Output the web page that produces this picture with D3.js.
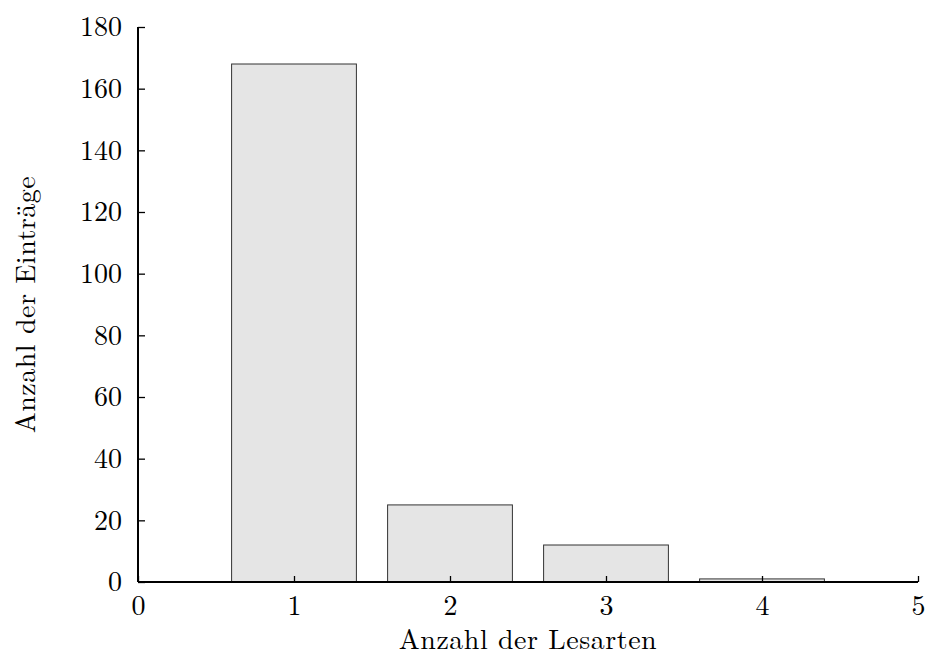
<!DOCTYPE html>
<html>
<head>
<meta charset="utf-8">
<script src="https://cdn.jsdelivr.net/npm/d3@7"></script>
<style>
  body { margin: 0; background: #fff; }
  text { font-family: "Latin Modern Roman", "CMU Serif", "Liberation Serif", "DejaVu Serif", serif; fill: #000; }
</style>
</head>
<body>
<div id="chart"></div>
<script>
var categories = [1, 2, 3, 4];
var counts = [168, 25, 12, 1];
var xTicks = [0, 1, 2, 3, 4, 5];
var yTicks = [0, 20, 40, 60, 80, 100, 120, 140, 160, 180];

var svgWidth = 930;
var svgHeight = 656;
var margin = { top: 27, right: 12, bottom: 74, left: 138 };
var width = svgWidth - margin.left - margin.right;
var height = svgHeight - margin.top - margin.bottom;

var svg = d3.select("#chart")
  .append("svg")
  .attr("width", svgWidth)
  .attr("height", svgHeight);

var chartGroup = svg.append("g")
  .attr("transform", `translate(${margin.left}, ${margin.top})`);

var x = d3.scaleLinear().domain([0, 5]).range([0, width]);
var y = d3.scaleLinear().domain([0, 180]).range([height, 0]);

// bars
chartGroup.selectAll("rect.bar")
  .data(categories)
  .enter()
  .append("rect")
  .classed("bar", true)
  .attr("x", d => x(d - 0.4))
  .attr("width", x(0.8) - x(0))
  .attr("y", (d, i) => y(counts[i]))
  .attr("height", (d, i) => y(0) - y(counts[i]))
  .attr("fill", "#e5e5e5")
  .attr("stroke", "#333")
  .attr("stroke-width", 1);

// x axis
var bottomAxis = d3.axisBottom(x).tickValues(xTicks).tickSize(-6).tickPadding(13).tickFormat(d3.format("d"));
var gx = chartGroup.append("g")
  .attr("transform", `translate(0, ${height})`)
  .call(bottomAxis);
gx.select(".domain").attr("stroke-width", 2).attr("d", `M0,0H${width}`);
gx.selectAll(".tick line").attr("stroke-width", 1.3);
gx.selectAll(".tick text").style("font-size", "28px").attr("dy", "0.71em");

// y axis
var leftAxis = d3.axisLeft(y).tickValues(yTicks).tickSize(-7).tickPadding(16);
var gy = chartGroup.append("g").call(leftAxis);
gy.select(".domain").attr("stroke-width", 2).attr("d", `M0,${height}V0`);
gy.selectAll(".tick line").attr("stroke-width", 1.3);
gy.selectAll(".tick text").style("font-size", "28px");

// axis titles
chartGroup.append("text")
  .attr("x", width / 2)
  .attr("y", height + 67)
  .attr("text-anchor", "middle")
  .style("font-size", "28px")
  .style("letter-spacing", "0.5px")
  .text("Anzahl der Lesarten");

chartGroup.append("text")
  .attr("transform", "rotate(-90)")
  .attr("x", -height / 2)
  .attr("y", -103)
  .attr("text-anchor", "middle")
  .style("font-size", "28px")
  .style("letter-spacing", "0.5px")
  .text("Anzahl der Einträge");
</script>
</body>
</html>
